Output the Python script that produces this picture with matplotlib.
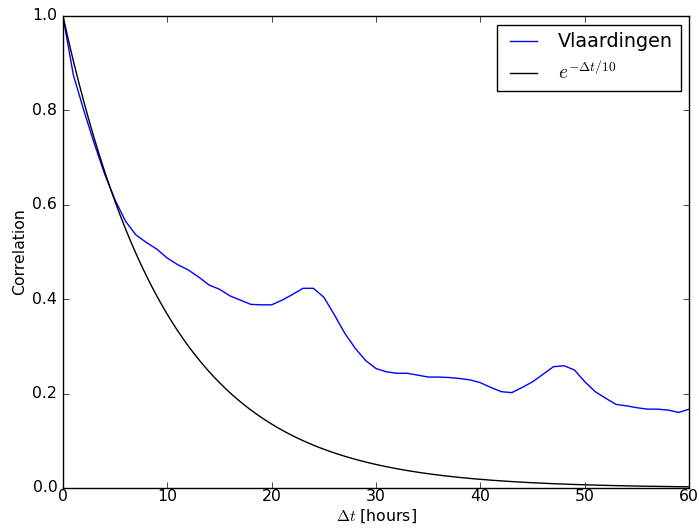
import numpy as np
import matplotlib
matplotlib.use('Agg')
import matplotlib.pyplot as plt

plt.style.use('classic')
plt.rcParams['font.size'] = 11.3

hours = np.arange(0, 61)
vlaardingen = [1.000, 0.875, 0.800, 0.730, 0.665, 0.610, 0.565, 0.536, 0.520, 0.506,
               0.487, 0.473, 0.462, 0.447, 0.430, 0.421, 0.407, 0.398, 0.389, 0.388,
               0.388, 0.398, 0.410, 0.423, 0.423, 0.404, 0.367, 0.328, 0.296, 0.270,
               0.253, 0.246, 0.243, 0.243, 0.239, 0.235, 0.235, 0.234, 0.232, 0.229,
               0.223, 0.213, 0.204, 0.202, 0.213, 0.225, 0.241, 0.257, 0.259, 0.250,
               0.225, 0.204, 0.190, 0.177, 0.174, 0.170, 0.167, 0.167, 0.165, 0.160,
               0.167]
tau = 10.0

t_fine = np.linspace(0, 60, 601)

fig = plt.figure(figsize=(6.99, 5.31), dpi=100)
ax = fig.add_axes([0.090, 0.081, 0.896, 0.889])

ax.plot(hours, vlaardingen, color='b', linewidth=1, label='Vlaardingen')
ax.plot(t_fine, np.exp(-t_fine / tau), color='k', linewidth=1, label=r'$e^{-\Delta t/10}$')

ax.set_xlim(0, 60)
ax.set_ylim(0, 1.0)
ax.set_xticks(np.arange(0, 61, 10))
ax.set_yticks(np.arange(0, 1.01, 0.2))
ax.tick_params(axis='x', pad=1)
ax.tick_params(axis='y', pad=4)
ax.set_xlabel(r'$\Delta t$ [hours]', labelpad=2)
ax.set_ylabel('Correlation', labelpad=4)
ax.legend(loc='upper right', fancybox=False, prop={'size': 13.8},
          borderaxespad=0.45)

fig.savefig('out.png', dpi=100)
